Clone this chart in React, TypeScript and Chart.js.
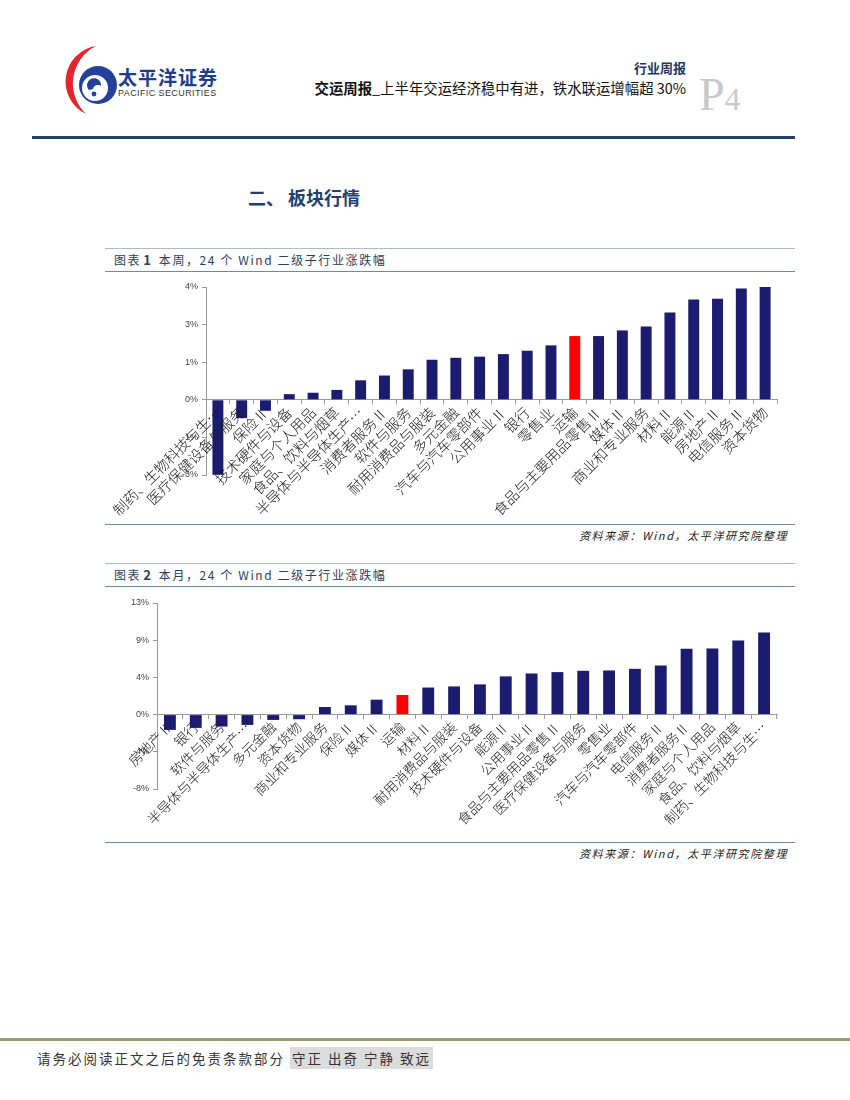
import React, { useEffect, useRef } from 'react';
import { Chart, registerables } from 'chart.js';

Chart.register(...registerables);

// ---------- Data ----------
const WEEK_CATEGORIES = [
  '制药、生物科技与生…', '医疗保健设备与服务', '保险Ⅱ', '技术硬件与设备', '家庭与个人用品',
  '食品、饮料与烟草', '半导体与半导体生产…', '消费者服务Ⅱ', '软件与服务', '耐用消费品与服装',
  '多元金融', '汽车与汽车零部件', '公用事业Ⅱ', '银行', '零售业', '运输', '食品与主要用品零售Ⅱ',
  '媒体Ⅱ', '商业和专业服务', '材料Ⅱ', '能源Ⅱ', '房地产Ⅱ', '电信服务Ⅱ', '资本货物',
];
const WEEK_VALUES = [
  -2.66, -0.65, -0.39, 0.2, 0.25, 0.35, 0.69, 0.86, 1.08, 1.42, 1.49, 1.53, 1.62, 1.74, 1.93,
  2.26, 2.26, 2.46, 2.6, 3.1, 3.56, 3.58, 3.95, 4.0,
];
const WEEK_TICK_VALUES = [-2.667, -1.333, 0, 1.333, 2.667, 4];
const WEEK_TICK_LABELS = ['-3%', '-1%', '0%', '1%', '3%', '4%'];

const MONTH_CATEGORIES = [
  '房地产Ⅱ', '银行', '软件与服务', '半导体与半导体生产…', '多元金融', '资本货物', '商业和专业服务',
  '保险Ⅱ', '媒体Ⅱ', '运输', '材料Ⅱ', '耐用消费品与服装', '技术硬件与设备', '能源Ⅱ', '公用事业Ⅱ',
  '食品与主要用品零售Ⅱ', '医疗保健设备与服务', '零售业', '汽车与汽车零部件', '电信服务Ⅱ',
  '消费者服务Ⅱ', '家庭与个人用品', '食品、饮料与烟草', '制药、生物科技与生…',
];
const MONTH_VALUES = [
  -1.78, -1.55, -1.39, -1.2, -0.62, -0.54, 0.88, 1.08, 1.74, 2.28, 3.15, 3.28, 3.52, 4.45, 4.79,
  4.95, 5.1, 5.14, 5.33, 5.72, 7.66, 7.7, 8.62, 9.55,
];
const MONTH_TICK_VALUES = [-8.667, -4.333, 0, 4.333, 8.667, 13];
const MONTH_TICK_LABELS = ['-8%', '-4%', '0%', '4%', '9%', '13%'];

const HIGHLIGHT = '运输';

// ---------- Styles ----------
const NAVY = '#1b1b6f';
const RED = '#ff0000';
const AXIS = '#9a9a9a';
const CJK = '"Noto Sans CJK SC", "Noto Sans", sans-serif';

type BarProps = {
  categories: string[];
  values: number[];
  tickValues: number[];
  tickLabels: string[];
  left: number;
  top: number;
  width: number;
  height: number;
  padTop: number;
  padRight: number;
  padBottom: number;
  yWidth: number;
  labelSize: number;
  barPct: number;
};

function BarChart(p: BarProps) {
  const ref = useRef<HTMLCanvasElement | null>(null);
  useEffect(() => {
    if (!ref.current) return;
    const chart = new Chart(ref.current, {
      type: 'bar',
      data: {
        labels: p.categories,
        datasets: [
          {
            data: p.values,
            backgroundColor: p.categories.map((c) => (c === HIGHLIGHT ? RED : NAVY)),
            borderWidth: 0,
            barPercentage: p.barPct,
            categoryPercentage: 1,
          },
        ],
      },
      options: {
        animation: false,
        responsive: false,
        devicePixelRatio: window.devicePixelRatio || 1,
        layout: { padding: { top: p.padTop, right: p.padRight, left: 0, bottom: p.padBottom } },
        plugins: { legend: { display: false }, tooltip: { enabled: false } },
        scales: {
          x: {
            type: 'category',
            position: { y: 0 } as any,
            grid: { drawOnChartArea: false, drawTicks: true, tickLength: 4, color: AXIS, offset: true },
            border: { color: AXIS, width: 1 },
            ticks: {
              autoSkip: false,
              minRotation: 45,
              maxRotation: 45,
              padding: 0,
              color: '#1a1a1a',
              font: { family: CJK, size: p.labelSize, weight: '300' as any },
              z: 1,
            },
            afterFit: (s: any) => {
              s.paddingLeft = 0;
              s.paddingRight = 0;
            },
          },
          y: {
            type: 'linear',
            min: p.tickValues[0],
            max: p.tickValues[p.tickValues.length - 1],
            afterBuildTicks: (axis: any) => {
              axis.ticks = p.tickValues.map((v) => ({ value: v }));
            },
            grid: { drawOnChartArea: false, drawTicks: true, tickLength: 4, color: AXIS },
            border: { color: AXIS, width: 1 },
            ticks: {
              padding: 4,
              color: '#444',
              font: { family: '"Liberation Sans", Arial, sans-serif', size: 9 },
              callback: (v: any) => {
                const i = p.tickValues.indexOf(Number(v));
                return i >= 0 ? p.tickLabels[i] : '';
              },
            },
            afterFit: (s: any) => {
              s.width = p.yWidth;
              s.paddingTop = 0;
              s.paddingBottom = 0;
            },
          },
        },
      },
    });
    return () => chart.destroy();
  }, []);
  return (
    <canvas
      ref={ref}
      width={p.width}
      height={p.height}
      style={{ position: 'absolute', left: p.left, top: p.top, width: p.width, height: p.height }}
    />
  );
}

function Logo() {
  return (
    <svg
      width={60}
      height={76}
      viewBox="0 0 60 76"
      style={{ position: 'absolute', left: 58, top: 42 }}
    >
      <path d="M38 4 A36 36 0 0 0 28 72 A42 42 0 0 1 38 4 Z" fill="#e3262d" />
      <circle cx="40" cy="43" r="19" fill="#24409a" />
      <circle cx="37" cy="46" r="13" fill="#ffffff" />
      <path d="M31 48 A7 7 0 1 1 43 44 A5 5 0 0 0 35 47 Z" fill="#24409a" />
      <circle cx="36" cy="52" r="2.4" fill="#24409a" />
    </svg>
  );
}

function ChartTitle({ top, num, period }: { top: number; num: string; period: string }) {
  return (
    <>
      <div style={{ position: 'absolute', left: 105, top, width: 690, height: 1, background: '#a8bccf' }} />
      <div
        style={{
          position: 'absolute',
          left: 114,
          top: top + 4,
          fontFamily: CJK,
          fontSize: 12,
          lineHeight: '16px',
          letterSpacing: '1.6px',
          color: '#2a3f5f',
          whiteSpace: 'nowrap',
        }}
      >
        图表<b style={{ fontSize: 13, margin: '0 2px' }}>{num}</b> {period}，24 个 Wind 二级子行业涨跌幅
      </div>
      <div style={{ position: 'absolute', left: 105, top: top + 23, width: 690, height: 1, background: '#6d8aa6' }} />
    </>
  );
}

function Source({ lineTop }: { lineTop: number }) {
  return (
    <>
      <div style={{ position: 'absolute', left: 105, top: lineTop, width: 690, height: 1, background: '#6d8aa6' }} />
      <div
        style={{
          position: 'absolute',
          right: 850 - 788,
          top: lineTop + 4,
          fontFamily: CJK,
          fontSize: 11,
          lineHeight: '14px',
          fontStyle: 'italic',
          letterSpacing: '1.6px',
          color: '#222',
          whiteSpace: 'nowrap',
        }}
      >
        资料来源：Wind，太平洋研究院整理
      </div>
    </>
  );
}

export default function App() {
  return (
    <div
      style={{
        position: 'absolute',
        left: 0,
        top: 0,
        width: 850,
        height: 1100,
        background: '#ffffff',
        overflow: 'hidden',
        fontFamily: CJK,
      }}
    >
      {/* Header */}
      <Logo />
      <div
        style={{
          position: 'absolute',
          left: 118,
          top: 67,
          fontSize: 19,
          lineHeight: '20px',
          fontWeight: 700,
          color: '#203c8e',
          letterSpacing: '1px',
          whiteSpace: 'nowrap',
        }}
      >
        太平洋证券
      </div>
      <div
        style={{
          position: 'absolute',
          left: 118,
          top: 88,
          fontFamily: '"Liberation Sans", Arial, sans-serif',
          fontSize: 9,
          lineHeight: '11px',
          color: '#333',
          letterSpacing: '0.4px',
          whiteSpace: 'nowrap',
        }}
      >
        PACIFIC SECURITIES
      </div>
      <div
        style={{
          position: 'absolute',
          right: 850 - 686,
          top: 59,
          fontSize: 13,
          lineHeight: '18px',
          fontWeight: 700,
          color: '#1f3864',
          whiteSpace: 'nowrap',
        }}
      >
        行业周报
      </div>
      <div
        style={{
          position: 'absolute',
          right: 850 - 686,
          top: 79,
          fontSize: 14.4,
          lineHeight: '18px',
          color: '#111',
          whiteSpace: 'nowrap',
        }}
      >
        <b>交运周报</b>_上半年交运经济稳中有进，铁水联运增幅超 30%
      </div>
      <div
        style={{
          position: 'absolute',
          left: 699,
          top: 70,
          fontFamily: '"Liberation Serif", "DejaVu Serif", serif',
          color: '#c9c9c9',
          whiteSpace: 'nowrap',
          lineHeight: '50px',
        }}
      >
        <span style={{ fontSize: 46 }}>P</span>
        <span style={{ fontSize: 32 }}>4</span>
      </div>
      <div style={{ position: 'absolute', left: 32, top: 136, width: 763, height: 3, background: '#233f63' }} />

      {/* Section title */}
      <div
        style={{
          position: 'absolute',
          left: 248,
          top: 186,
          fontSize: 18,
          lineHeight: '22px',
          fontWeight: 700,
          color: '#22406e',
          whiteSpace: 'nowrap',
        }}
      >
        二、 板块行情
      </div>

      {/* Chart 1 */}
      <ChartTitle top={248} num="1" period="本周" />
      <BarChart
        categories={WEEK_CATEGORIES}
        values={WEEK_VALUES}
        tickValues={WEEK_TICK_VALUES}
        tickLabels={WEEK_TICK_LABELS}
        left={100}
        top={280}
        width={690}
        height={242}
        padTop={7}
        padRight={13}
        padBottom={47}
        yWidth={106}
        labelSize={14.5}
        barPct={0.46}
      />
      <Source lineTop={524} />

      {/* Chart 2 */}
      <ChartTitle top={563} num="2" period="本月" />
      <BarChart
        categories={MONTH_CATEGORIES}
        values={MONTH_VALUES}
        tickValues={MONTH_TICK_VALUES}
        tickLabels={MONTH_TICK_LABELS}
        left={100}
        top={595}
        width={690}
        height={245}
        padTop={8}
        padRight={13}
        padBottom={51}
        yWidth={57}
        labelSize={13.8}
        barPct={0.46}
      />
      <Source lineTop={842} />

      {/* Footer */}
      <div style={{ position: 'absolute', left: 0, top: 1038, width: 850, height: 3, background: '#9c9a6a' }} />
      <div
        style={{
          position: 'absolute',
          left: 37,
          top: 1049,
          fontSize: 13.5,
          lineHeight: '19px',
          letterSpacing: '2px',
          color: '#333',
          whiteSpace: 'nowrap',
        }}
      >
        请务必阅读正文之后的免责条款部分{' '}
        <span style={{ background: '#dcdcdc', padding: '1px 2px' }}>守正 出奇 宁静 致远</span>
      </div>
    </div>
  );
}
